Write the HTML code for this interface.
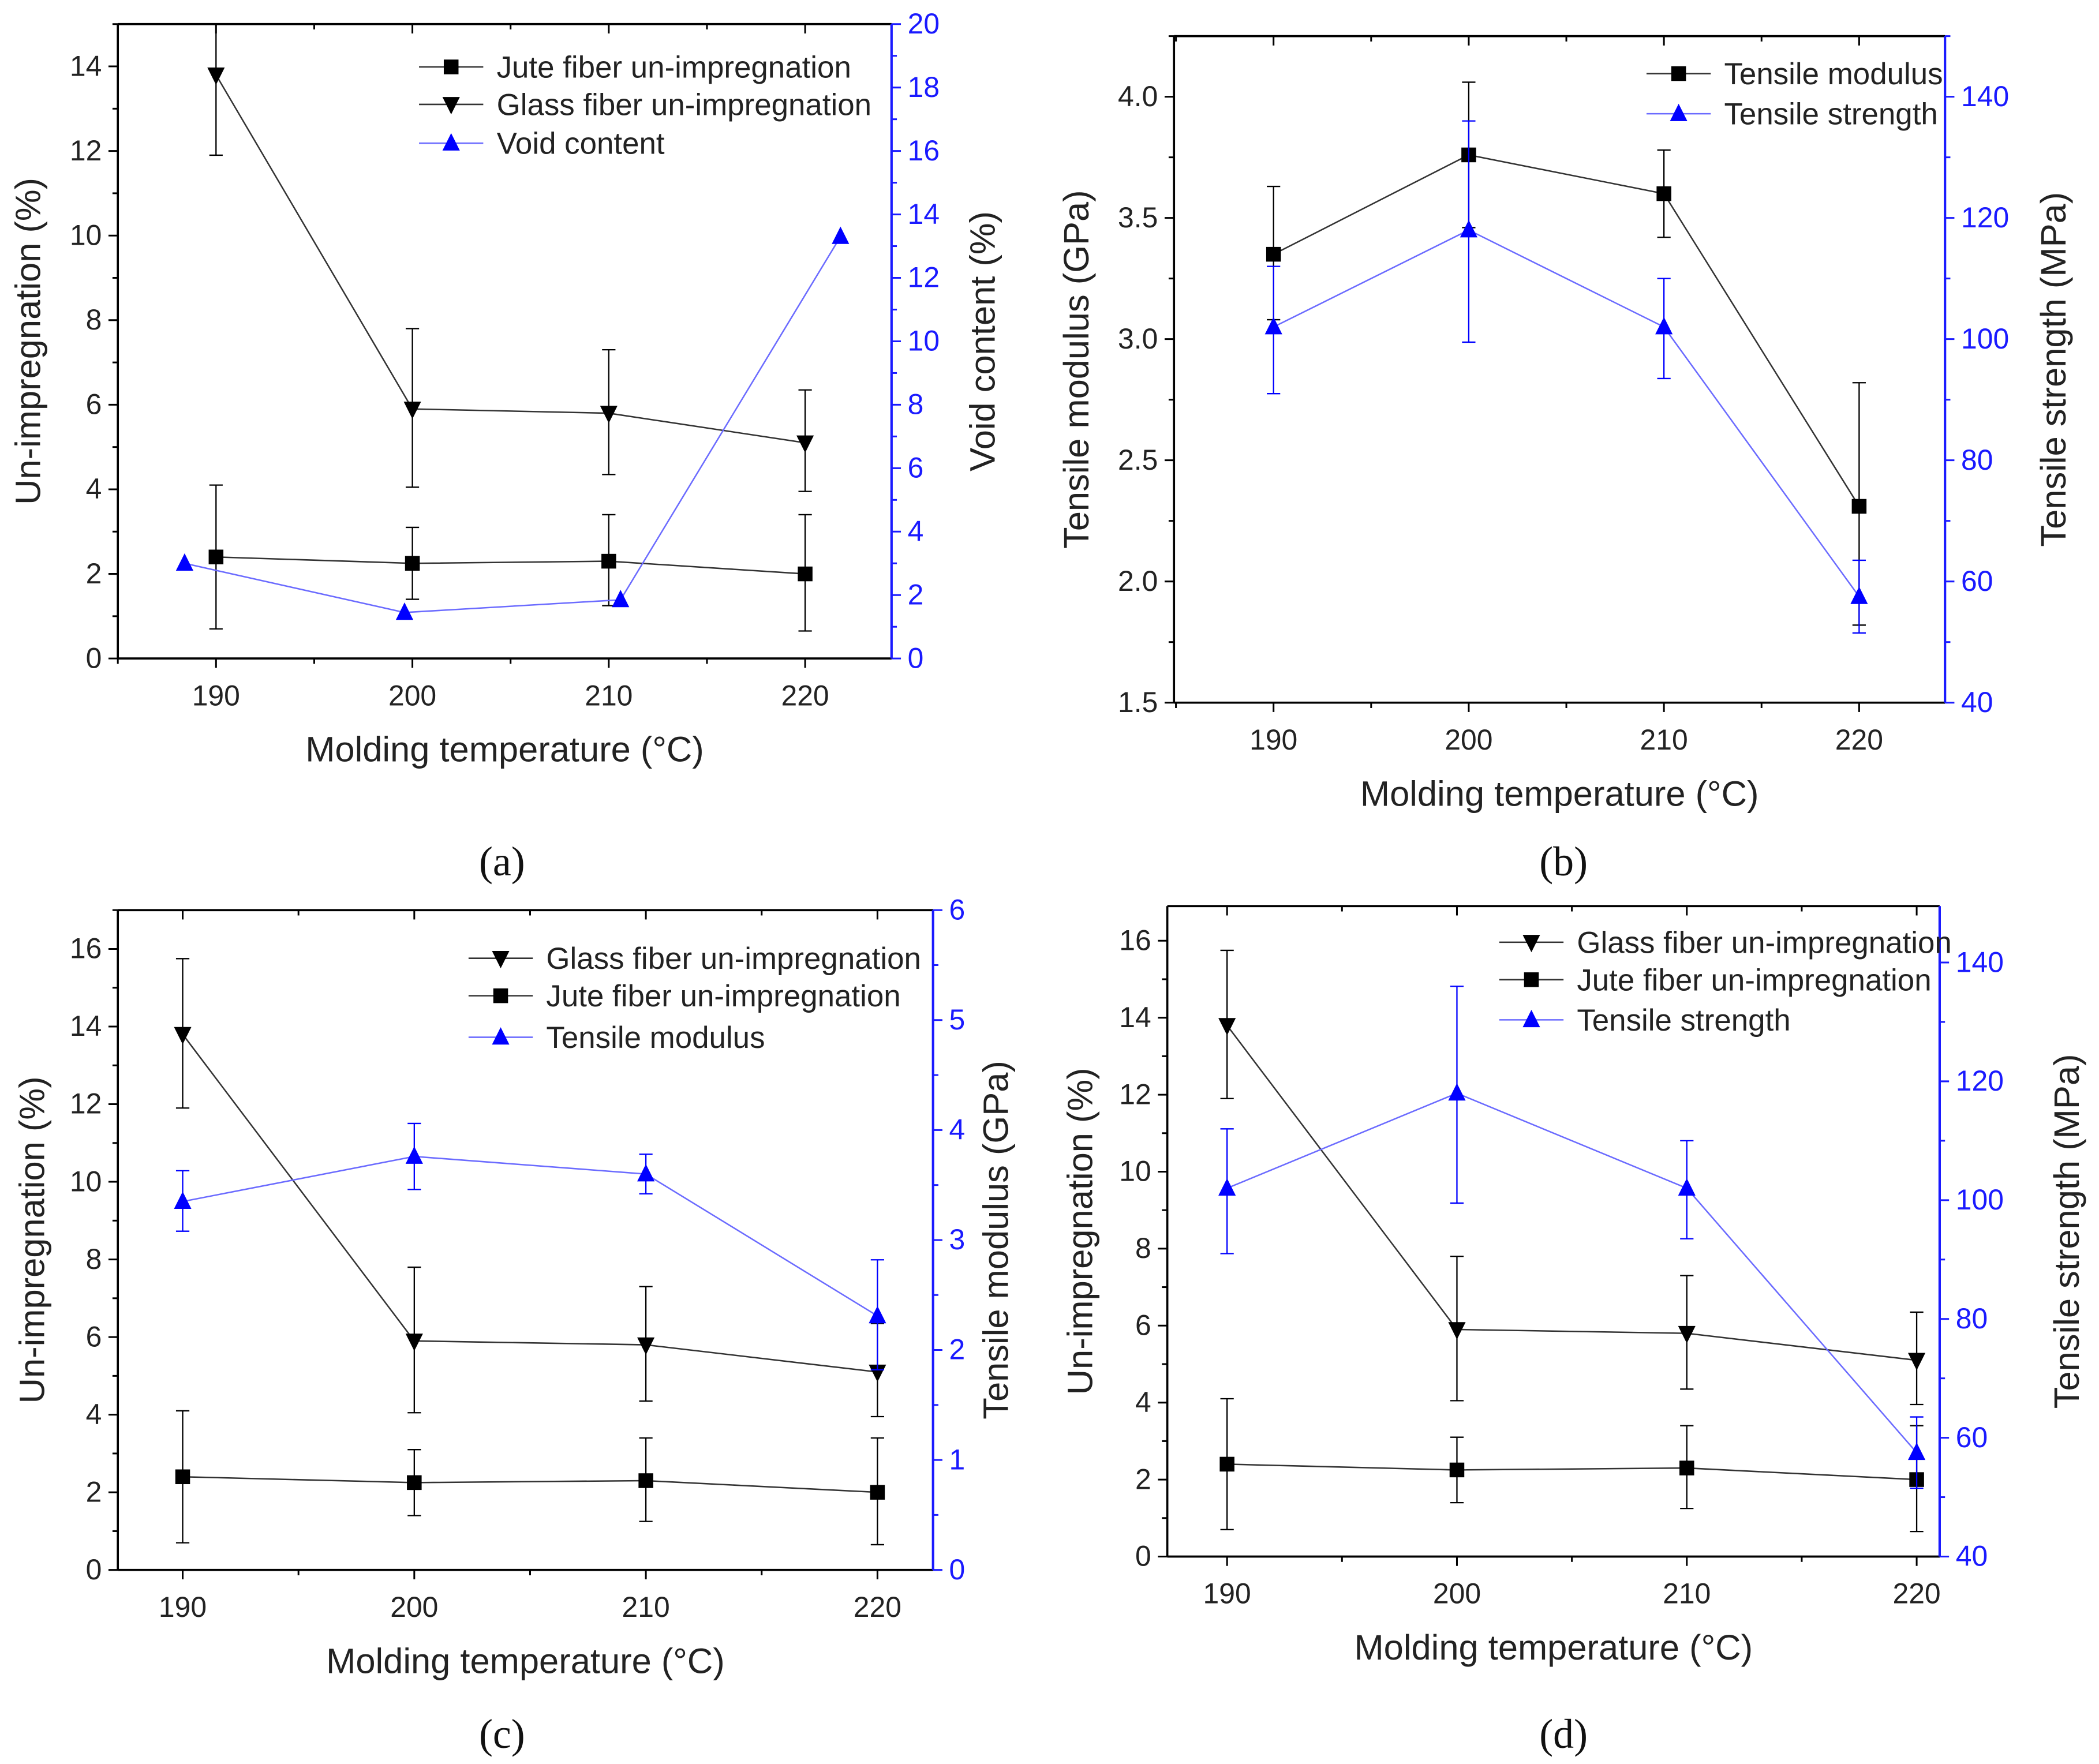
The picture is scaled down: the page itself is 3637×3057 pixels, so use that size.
<!DOCTYPE html>
<html><head><meta charset="utf-8"><style>
html,body{margin:0;padding:0;background:#fff;}
svg{display:block;}
text{font-family:"Liberation Sans",Arial,sans-serif;}
.cap{font-family:"Liberation Serif",serif;}
</style></head><body>
<svg id="fig" width="3637" height="3057" viewBox="0 0 1568 1318" xmlns="http://www.w3.org/2000/svg"></svg>
<script>
const temps = [190, 200, 210, 220];
const voidTemps = [188.4, 199.6, 210.6, 221.8];
const juteVals = [2.4, 2.25, 2.3, 2.0];
const juteLo = [0.7, 1.4, 1.25, 0.65];
const juteHi = [4.1, 3.1, 3.4, 3.4];
const glassVals = [13.8, 5.9, 5.8, 5.1];
const glassLo = [11.9, 4.05, 4.35, 3.95];
const glassHi = [15.75, 7.8, 7.3, 6.35];
const voidVals = [3.0, 1.45, 1.85, 13.3];
const modVals = [3.35, 3.76, 3.6, 2.31];
const modLo = [3.08, 3.46, 3.42, 1.82];
const modHi = [3.63, 4.06, 3.78, 2.82];
const strVals = [102, 118, 102, 57.5];
const strLo = [91, 99.5, 93.5, 51.5];
const strHi = [112, 136, 110, 63.5];
const xTicks = [190, 200, 210, 220];

const NS = "http://www.w3.org/2000/svg";
const svg = document.getElementById('fig');
function mk(tag, attrs, parent, txt) {
  const e = document.createElementNS(NS, tag);
  for (const k in attrs) e.setAttribute(k, attrs[k]);
  if (txt !== undefined) e.textContent = txt;
  (parent || svg).appendChild(e);
  return e;
}
function marker(g, type, x, y, color) {
  const s = 6.5;
  let e;
  if (type === 'sq') e = mk('rect', {x: x - 5.5, y: y - 5.5, width: 11, height: 11, fill: color}, g);
  else if (type === 'down') e = mk('polygon', {points: `${x-s},${y-s+1} ${x+s},${y-s+1} ${x},${y+s+1}`, fill: color}, g);
  else e = mk('polygon', {points: `${x-s},${y+s-1} ${x+s},${y+s-1} ${x},${y-s-1}`, fill: color}, g);
  return e;
}

function panel(p) {
  const g = mk('g', {});
  
  
  const X = v => p.x0 + (v - p.xmin) / (p.xmax - p.xmin) * (p.x1 - p.x0);
  const YL = v => p.y1 - (v - p.lmin) / (p.lmax - p.lmin) * (p.y1 - p.y0);
  const YR = v => p.y1 - (v - p.rmin) / (p.rmax - p.rmin) * (p.y1 - p.y0);
  mk('line', {x1: p.x0, y1: p.y0, x2: p.x1, y2: p.y0, stroke: '#000', 'stroke-width': 1.6}, g);
  mk('line', {x1: p.x0, y1: p.y1, x2: p.x1, y2: p.y1, stroke: '#000', 'stroke-width': 1.6}, g);
  const la = mk('line', {x1: p.x0, y1: p.y0, x2: p.x0, y2: p.y1, stroke: '#000', 'stroke-width': 1.6}, g);
   
  const ra = mk('line', {x1: p.x1, y1: p.y0, x2: p.x1, y2: p.y1, stroke: '#1a1aff', 'stroke-width': 1.8}, g);
   
  for (let v = Math.ceil(p.xmin / 5) * 5; v <= p.xmax; v += 5) {
    const major = v % 10 === 0;
    const len = major ? 7 : 4;
    mk('line', {x1: X(v), y1: p.y1, x2: X(v), y2: p.y1 + len, stroke: '#000', 'stroke-width': 1.3}, g);
    mk('line', {x1: X(v), y1: p.y0, x2: X(v), y2: p.y0 + len, stroke: '#000', 'stroke-width': 1.3}, g);
  }
  xTicks.forEach(v => {
    const t = mk('text', {x: X(v), y: p.y1 + 35, 'font-size': 21.5, 'text-anchor': 'middle', fill: '#222'}, g, String(v));
     
  });
  for (let v = p.lmin; v <= p.lmax + 1e-9; v += p.lstep / 2) {
    const major = Math.abs(Math.round((v - p.lmin) / p.lstep) * p.lstep - (v - p.lmin)) < 1e-6;
    mk('line', {x1: p.x0 - (major ? 7 : 4), y1: YL(v), x2: p.x0, y2: YL(v), stroke: '#000', 'stroke-width': 1.3}, g);
    if (major && v <= p.lLabelMax + 1e-9) {
      const t = mk('text', {x: p.x0 - 12, y: YL(v) + 7, 'font-size': 21.5, 'text-anchor': 'end', fill: '#222'}, g, p.lfmt(v));
       
    }
  }
  for (let v = p.rmin; v <= p.rmax + 1e-9; v += p.rstep / 2) {
    const major = Math.abs(Math.round((v - p.rmin) / p.rstep) * p.rstep - (v - p.rmin)) < 1e-6;
    mk('line', {x1: p.x1, y1: YR(v), x2: p.x1 + (major ? 7 : 4), y2: YR(v), stroke: '#1a1aff', 'stroke-width': 1.3}, g);
    if (major && v <= p.rLabelMax + 1e-9) {
      const t = mk('text', {x: p.x1 + 12, y: YR(v) + 7, 'font-size': 21.5, fill: '#1a1aff'}, g, String(v));
       
    }
  }
  const xt = mk('text', {x: (p.x0 + p.x1) / 2, y: p.y1 + 77, 'font-size': 26.5, 'text-anchor': 'middle', fill: '#222'}, g, 'Molding temperature (°C)');
   
  const cy = (p.y0 + p.y1) / 2;
  const lt = mk('text', {x: p.ltx, y: cy, 'font-size': 26.5, 'text-anchor': 'middle', fill: '#222', transform: `rotate(-90 ${p.ltx} ${cy})`}, g, p.ltitle);
   
  const rt = mk('text', {x: p.rtx, y: cy, 'font-size': 26.5, 'text-anchor': 'middle', fill: '#222', transform: `rotate(-90 ${p.rtx} ${cy})`}, g, p.rtitle);
   
  const cid = 'clip-' + p.name;
  const cp = mk('clipPath', {id: cid}, g);
  mk('rect', {x: p.x0, y: p.y0, width: p.x1 - p.x0, height: p.y1 - p.y0}, cp);
  p.series.forEach(s => {
    const Y = s.axis === 'r' ? YR : YL;
    const col = s.color;
    const sg = mk('g', {'clip-path': `url(#${cid})`}, g);
     
    const xs = s.xs;
    if (s.lo) {
      xs.forEach((xv, i) => {
        const x = X(xv);
        mk('line', {x1: x, y1: Y(s.lo[i]), x2: x, y2: Y(s.hi[i]), stroke: col, 'stroke-width': 1}, sg);
        mk('line', {x1: x - 5, y1: Y(s.lo[i]), x2: x + 5, y2: Y(s.lo[i]), stroke: col, 'stroke-width': 1}, sg);
        mk('line', {x1: x - 5, y1: Y(s.hi[i]), x2: x + 5, y2: Y(s.hi[i]), stroke: col, 'stroke-width': 1}, sg);
      });
    }
    const pts = xs.map((xv, i) => X(xv) + ',' + Y(s.vals[i])).join(' ');
    const ln = mk('polyline', {points: pts, fill: 'none', stroke: s.line, 'stroke-width': 1.1}, sg);
     
    xs.forEach((xv, i) => {
      const m = marker(sg, s.marker, X(xv), Y(s.vals[i]), col);
       
    });
  });
  const lg = mk('g', {});
   
  g.appendChild(lg);
  p.legend.forEach((e, i) => {
    const y = p.legY[i];
    const eg = mk('g', {}, lg);
     
    mk('line', {x1: p.legX, y1: y, x2: p.legX + 48, y2: y, stroke: e.line, 'stroke-width': 1.1}, eg);
    marker(eg, e.marker, p.legX + 24, y, e.color);
    mk('text', {x: p.legX + 58, y: y + 8, 'font-size': 22.8, fill: '#222'}, eg, e.label);
  });
  const c = mk('text', {x: p.capx, y: p.capy, 'font-size': 31, 'text-anchor': 'middle', fill: '#111', class: 'cap'}, g, p.cap);
   
}

const JUTE = {id: 'jute', xs: temps, vals: juteVals, lo: juteLo, hi: juteHi, color: '#000', line: '#333', marker: 'sq', axis: 'l'};
const GLASS = {id: 'glass', xs: temps, vals: glassVals, lo: glassLo, hi: glassHi, color: '#000', line: '#333', marker: 'down', axis: 'l'};
const L_JUTE = {label: 'Jute fiber un-impregnation', marker: 'sq', color: '#000', line: '#333'};
const L_GLASS = {label: 'Glass fiber un-impregnation', marker: 'down', color: '#000', line: '#333'};

panel({name: 'panel-a', x0: 88, x1: 666, y0: 18, y1: 492, xmin: 185, xmax: 224.4,
  lmin: 0, lmax: 15, lstep: 2, lLabelMax: 14, lfmt: v => String(v), rmin: 0, rmax: 20, rstep: 2, rLabelMax: 20,
  ltitle: 'Un-impregnation (%)', rtitle: 'Void content (%)', ltx: 30, rtx: 743,
  series: [JUTE, GLASS, {id: 'void', xs: voidTemps, vals: voidVals, color: '#0000ff', line: '#6b6bff', marker: 'up', axis: 'r'}],
  legend: [L_JUTE, L_GLASS, {label: 'Void content', marker: 'up', color: '#0000ff', line: '#6b6bff'}],
  legX: 313, legY: [50, 78, 107], cap: '(a)', capx: 375, capy: 654});

panel({name: 'panel-b', x0: 877, x1: 1453, y0: 27, y1: 525, xmin: 184.9, xmax: 224.4,
  lmin: 1.5, lmax: 4.25, lstep: 0.5, lLabelMax: 4.0, lfmt: v => v.toFixed(1), rmin: 40, rmax: 150, rstep: 20, rLabelMax: 140,
  ltitle: 'Tensile modulus (GPa)', rtitle: 'Tensile strength (MPa)', ltx: 813, rtx: 1543,
  series: [{id: 'tensile-modulus', xs: temps, vals: modVals, lo: modLo, hi: modHi, color: '#000', line: '#333', marker: 'sq', axis: 'l'},
           {id: 'tensile-strength', xs: temps, vals: strVals, lo: strLo, hi: strHi, color: '#0000ff', line: '#6b6bff', marker: 'up', axis: 'r'}],
  legend: [{label: 'Tensile modulus', marker: 'sq', color: '#000', line: '#333'}, {label: 'Tensile strength', marker: 'up', color: '#0000ff', line: '#6b6bff'}],
  legX: 1230, legY: [55, 85], cap: '(b)', capx: 1168, capy: 654});

panel({name: 'panel-c', x0: 88, x1: 697, y0: 680, y1: 1173, xmin: 187.2, xmax: 222.4,
  lmin: 0, lmax: 17, lstep: 2, lLabelMax: 16, lfmt: v => String(v), rmin: 0, rmax: 6, rstep: 1, rLabelMax: 6,
  ltitle: 'Un-impregnation (%)', rtitle: 'Tensile modulus (GPa)', ltx: 33, rtx: 753,
  series: [GLASS, JUTE, {id: 'tensile-modulus', xs: temps, vals: modVals, lo: modLo, hi: modHi, color: '#0000ff', line: '#6b6bff', marker: 'up', axis: 'r'}],
  legend: [L_GLASS, L_JUTE, {label: 'Tensile modulus', marker: 'up', color: '#0000ff', line: '#6b6bff'}],
  legX: 350, legY: [716, 744, 775], cap: '(c)', capx: 375, capy: 1306});

panel({name: 'panel-d', x0: 872, x1: 1449, y0: 677, y1: 1163, xmin: 187.4, xmax: 221,
  lmin: 0, lmax: 16.9, lstep: 2, lLabelMax: 16, lfmt: v => String(v), rmin: 40, rmax: 149.5, rstep: 20, rLabelMax: 140,
  ltitle: 'Un-impregnation (%)', rtitle: 'Tensile strength (MPa)', ltx: 816, rtx: 1553,
  series: [GLASS, JUTE, {id: 'tensile-strength', xs: temps, vals: strVals, lo: strLo, hi: strHi, color: '#0000ff', line: '#6b6bff', marker: 'up', axis: 'r'}],
  legend: [L_GLASS, L_JUTE, {label: 'Tensile strength', marker: 'up', color: '#0000ff', line: '#6b6bff'}],
  legX: 1120, legY: [704, 732, 762], cap: '(d)', capx: 1168, capy: 1306});
</script>
</body></html>
